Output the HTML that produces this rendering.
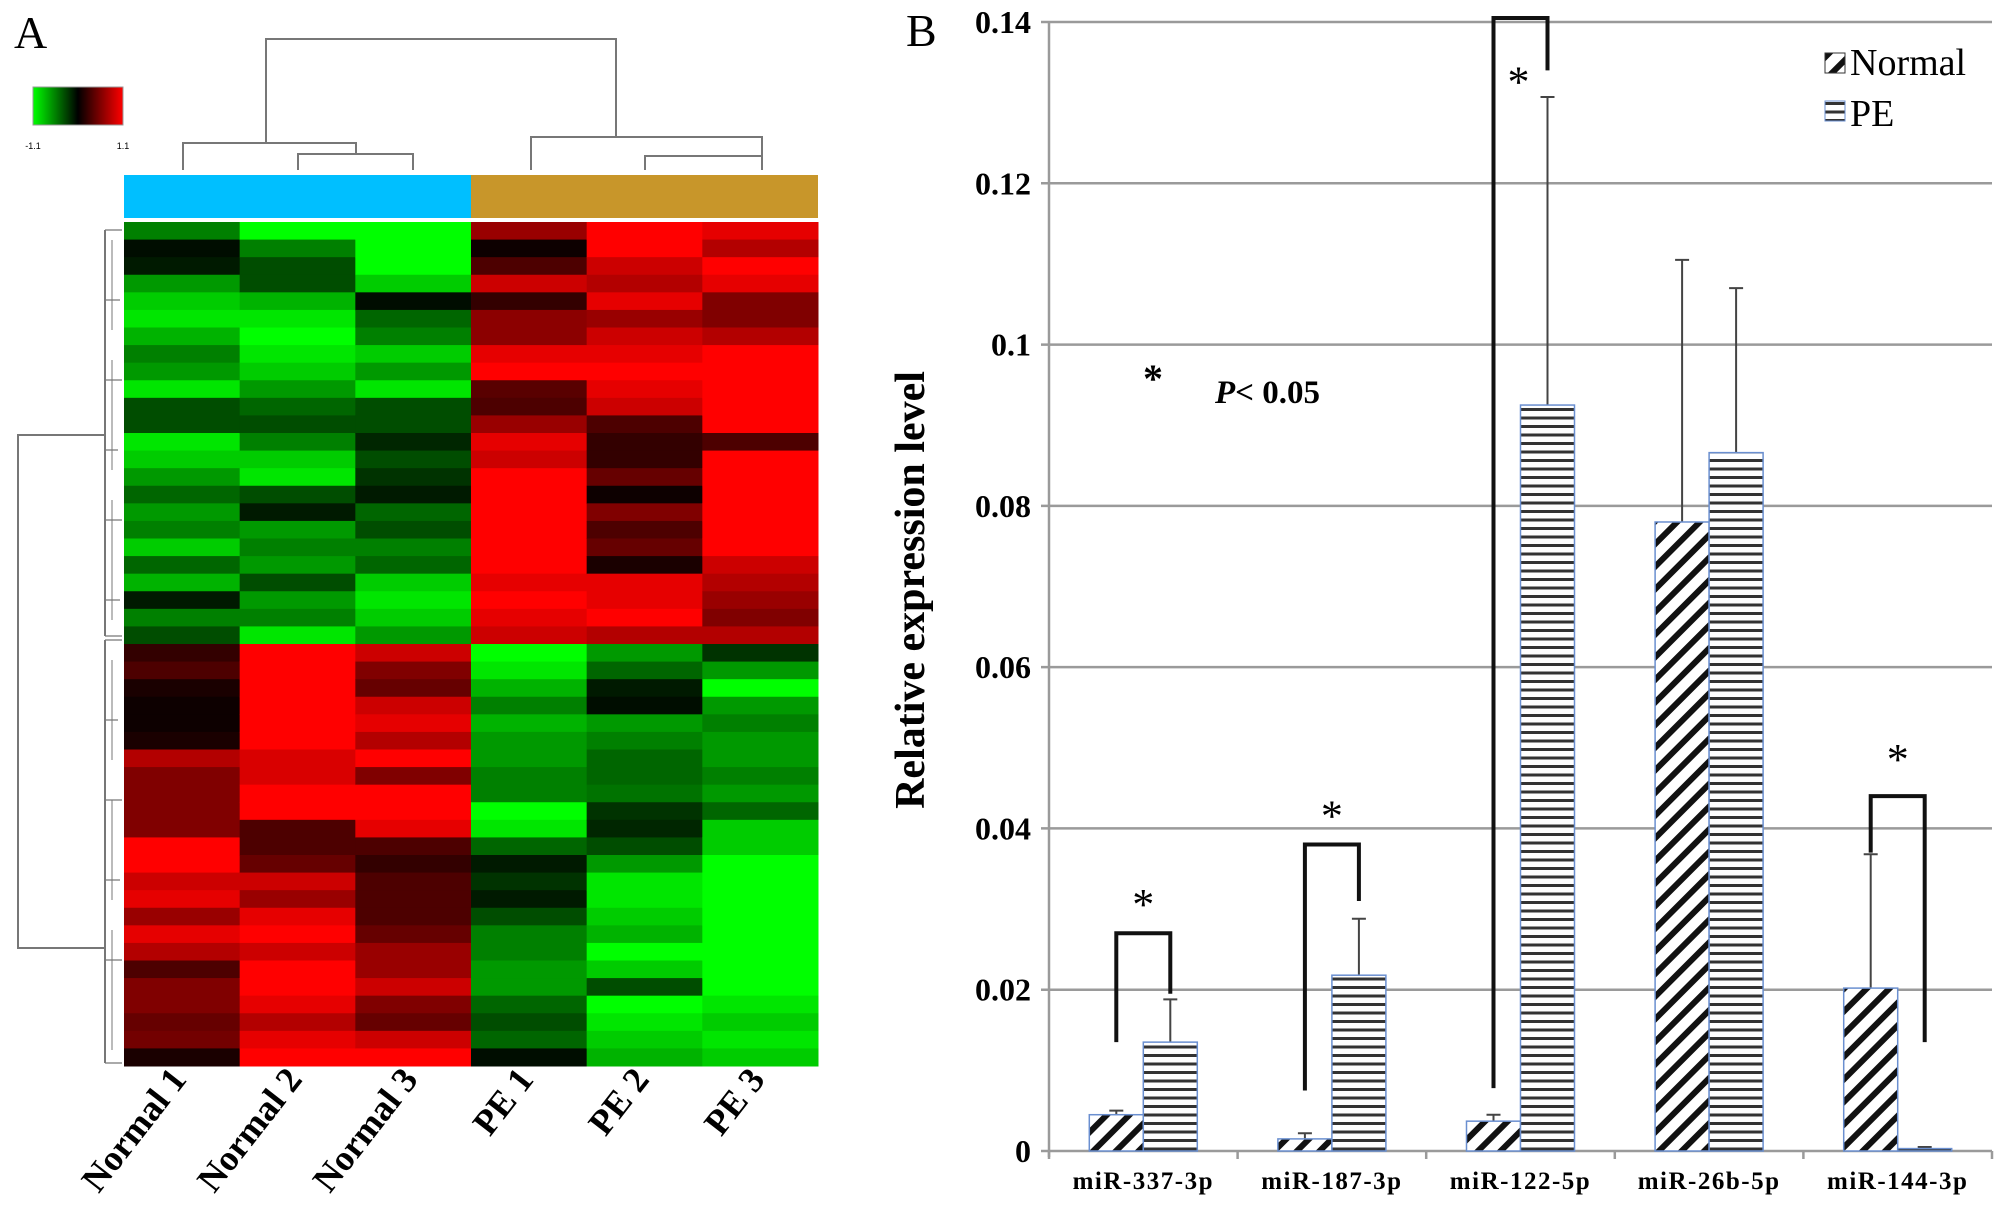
<!DOCTYPE html>
<html><head><meta charset="utf-8"><style>
html,body{margin:0;padding:0;background:#fff;}
svg{display:block;font-family:"Liberation Serif",serif;}
</style></head><body>
<svg id="fig" width="2008" height="1232" viewBox="0 0 2008 1232">
<defs>
<pattern id="diag" patternUnits="userSpaceOnUse" width="16" height="16" patternTransform="rotate(45)">
<rect width="16" height="16" fill="#fff"/><rect x="0" y="0" width="6" height="16" fill="#111"/>
</pattern>
<pattern id="horiz" patternUnits="userSpaceOnUse" width="8" height="8.5">
<rect width="8" height="8.5" fill="#fff"/><rect x="0" y="0" width="8" height="3" fill="#333"/>
</pattern>
<linearGradient id="cbar" x1="0" x2="1" y1="0" y2="0">
<stop offset="0" stop-color="#00ff00"/><stop offset="0.5" stop-color="#000"/><stop offset="1" stop-color="#ff0000"/>
</linearGradient>
</defs>
<text x="14" y="48" font-size="46">A</text>
<text x="906" y="46" font-size="46">B</text>
<g>
<rect x="33" y="87" width="90" height="38" fill="url(#cbar)" stroke="#999"/>
<text x="33" y="149" font-size="9" text-anchor="middle" font-family="Liberation Sans, sans-serif">-1.1</text>
<text x="123" y="149" font-size="9" text-anchor="middle" font-family="Liberation Sans, sans-serif">1.1</text>
</g>
<g id="heat"></g>
<g id="dendro" fill="none" stroke="#777" stroke-width="2">
<path d="M266 143V39H616V137"/>
<path d="M183 170V143H356V154"/>
<path d="M298 170V154H413V170"/>
<path d="M531 170V137H762V156"/>
<path d="M645 170V156H762V170"/>
<path d="M105 435H18V948H105"/>
<path d="M105 230V636M105 640V1063"/>
<path d="M105 230H122M105 300H120M105 380H122M105 450H118M105 520H122M105 600H120M105 636H122M105 640H122M105 720H118M105 800H122M105 880H120M105 960H122M105 1063H122" stroke-width="1.2"/>
<path d="M112 240V330M112 360V470M112 500V620M112 660V760M112 800V900M112 930V1050" stroke-width="1"/>
</g>
<g id="cols">
<rect x="124" y="175" width="347" height="43" fill="#00bfff"/>
<rect x="471" y="175" width="347" height="43" fill="#c8962a"/>
</g>
<g id="collabels" font-weight="bold" font-size="36"></g>

<g id="chart"></g>
<text transform="translate(924,590) rotate(-90)" font-size="42" font-weight="bold" text-anchor="middle">Relative expression level</text>
<text x="1143" y="392" font-size="40" font-weight="bold">*</text>
<text x="1215" y="403" font-size="33" font-weight="bold"><tspan font-style="italic">P</tspan>&lt; 0.05</text>
<g>
<rect x="1825" y="53" width="20" height="20" fill="url(#diag)" stroke="#333"/>
<text x="1850" y="75" font-size="38">Normal</text>
<rect x="1825" y="101" width="20" height="20" fill="url(#horiz)" stroke="#6a8fd0"/>
<text x="1850" y="126" font-size="38">PE</text>
</g>
</svg>
<script>
const NS="http://www.w3.org/2000/svg";
// ---- heatmap data ----
const sampleNames=["Normal 1","Normal 2","Normal 3","PE 1","PE 2","PE 3"];
const n1=[-0.5,-0.05,-0.1,-0.6,-0.8,-0.9,-0.7,-0.5,-0.6,-0.9,-0.3,-0.3,-0.9,-0.8,-0.6,-0.4,-0.6,-0.5,-0.8,-0.4,-0.7,-0.1,-0.5,-0.3,0.2,0.3,0.1,0.05,0.05,0.1,0.7,0.5,0.5,0.5,0.5,1,1,0.8,0.9,0.6,0.9,0.7,0.3,0.5,0.5,0.4,0.45,0.1];
const n2=[-1,-0.5,-0.3,-0.3,-0.7,-0.9,-1,-0.9,-0.8,-0.6,-0.4,-0.3,-0.5,-0.8,-0.9,-0.3,-0.1,-0.6,-0.5,-0.6,-0.3,-0.6,-0.5,-0.9,1,1,1,1,1,1,0.85,0.85,1,1,0.3,0.3,0.4,0.8,0.6,0.9,1,0.8,1,1,0.9,0.7,0.9,1];
const n3=[-1,-1,-1,-0.8,-0.05,-0.4,-0.5,-0.8,-0.6,-0.9,-0.3,-0.3,-0.15,-0.3,-0.2,-0.1,-0.4,-0.3,-0.5,-0.4,-0.8,-0.9,-0.8,-0.6,0.8,0.5,0.4,0.8,0.9,0.7,1,0.5,1,1,0.9,0.3,0.2,0.3,0.3,0.3,0.4,0.6,0.6,0.8,0.5,0.4,0.8,1];
const p1=[0.6,0.05,0.3,0.8,0.2,0.55,0.55,0.9,1,0.35,0.3,0.6,0.9,0.8,1,1,1,1,1,1,0.9,1,0.9,0.8,-1,-0.9,-0.7,-0.5,-0.7,-0.6,-0.6,-0.5,-0.5,-1,-0.9,-0.4,-0.1,-0.2,-0.1,-0.3,-0.5,-0.5,-0.6,-0.6,-0.4,-0.3,-0.4,-0.05];
const p2=[1,1,0.8,0.7,0.9,0.6,0.8,0.9,1,0.9,0.8,0.3,0.2,0.2,0.4,0.05,0.5,0.3,0.4,0.1,0.9,0.9,1,0.7,-0.6,-0.4,-0.1,-0.05,-0.6,-0.5,-0.4,-0.4,-0.45,-0.2,-0.15,-0.3,-0.6,-0.9,-0.9,-0.8,-0.7,-1,-0.8,-0.3,-1,-0.9,-0.8,-0.7];
const p3=[0.9,0.7,1,0.9,0.5,0.5,0.7,1,1,1,1,1,0.3,1,1,1,1,1,1,0.8,0.7,0.6,0.5,0.7,-0.2,-0.6,-1,-0.6,-0.5,-0.6,-0.6,-0.5,-0.6,-0.4,-0.8,-0.8,-1,-1,-1,-1,-1,-1,-1,-1,-0.9,-0.8,-0.9,-0.8];
const heatCols=[n1,n2,n3,p1,p2,p3];
const hx0=124,hx1=818,hy0=222,hy1=1066;
const heat=document.getElementById('heat');
function col(v){const a=Math.round(Math.min(1,Math.abs(v))*255);return v<0?`rgb(0,${a},0)`:`rgb(${a},0,0)`;}
const cw=(hx1-hx0)/heatCols.length;
heatCols.forEach((arr,c)=>{
  const rh=(hy1-hy0)/arr.length;
  arr.forEach((v,r)=>{
    const re=document.createElementNS(NS,'rect');
    re.setAttribute('x',hx0+c*cw);re.setAttribute('y',hy0+r*rh);
    re.setAttribute('width',cw+0.5);re.setAttribute('height',rh+0.5);
    re.setAttribute('fill',col(v));
    
    
    heat.appendChild(re);
  });
});
const cl=document.getElementById('collabels');
sampleNames.forEach((s,i)=>{
  const t=document.createElementNS(NS,'text');
  const cx=hx0+(i+0.5)*cw+6, cy=1080;
  t.setAttribute('transform',`translate(${cx},${cy}) rotate(-52)`);
  t.setAttribute('text-anchor','end');
  t.textContent=s;
  
  
  cl.appendChild(t);
});
// ---- bar chart data ----
const categories=["miR-337-3p","miR-187-3p","miR-122-5p","miR-26b-5p","miR-144-3p"];
const normalVals=[0.0045,0.0015,0.0037,0.078,0.0202];
const peVals=[0.0135,0.0218,0.0925,0.0866,0.0003];
const normalErr=[0.0005,0.0007,0.0008,0.0325,0.0166];
const peErr=[0.0053,0.007,0.0382,0.0204,0.0002];
const yTicks=[0,0.02,0.04,0.06,0.08,0.1,0.12,0.14];
const yTickLabels=["0","0.02","0.04","0.06","0.08","0.1","0.12","0.14"];
// brackets: [top, leftEnd, rightEnd, starValue]
const brTop=[0.027,0.038,0.1405,0.044];
const brLeft=[0.0135,0.0075,0.0078,0.037];
const brRight=[0.0195,0.031,0.134,0.0135];
const brStar=[0.0315,0.0425,0.1335,0.0495];
const brCat=[0,1,2,4];
const px0=1049,px1=1992,py0=1151,py1=22,ymax=0.14;
const Y=v=>py0-(v/ymax)*(py0-py1);
const band=(px1-px0)/categories.length;
const Xc=i=>px0+band*(i+0.5);
const bw=54;
const g=document.getElementById('chart');
function el(tag,attrs){const e=document.createElementNS(NS,tag);for(const k in attrs)e.setAttribute(k,attrs[k]);g.appendChild(e);return e;}
yTicks.forEach((t,i)=>{
  const l=el('line',{x1:px0-8,x2:px1,y1:Y(t),y2:Y(t),stroke:'#9a9a9a','stroke-width':2.5});
  
  
  const tx=el('text',{x:1031,y:Y(t)+11,'text-anchor':'end','font-size':32,'font-weight':'bold'});
  tx.textContent=yTickLabels[i];
  
  
});
const ax=el('line',{x1:px0,x2:px0,y1:py1,y2:py0+6,stroke:'#9a9a9a','stroke-width':2.5});


for(let i=0;i<=categories.length;i++){
  const tk=el('line',{x1:px0+band*i,x2:px0+band*i,y1:py0,y2:py0+8,stroke:'#9a9a9a','stroke-width':2.5});
  
  
}
categories.forEach((c,i)=>{
  const cx=Xc(i);
  [[normalVals,normalErr,cx-bw/2],[peVals,peErr,cx+bw/2]].forEach(([vals,errs,ex])=>{
    const eb=el('path',{d:`M${ex} ${Y(vals[i])}V${Y(vals[i]+errs[i])}M${ex-7} ${Y(vals[i]+errs[i])}H${ex+7}`,stroke:'#444','stroke-width':2,fill:'none'});
    
    
  });
  const b1=el('rect',{x:cx-bw,y:Y(normalVals[i]),width:bw,height:py0-Y(normalVals[i]),fill:'url(#diag)',stroke:'#6a8fd0','stroke-width':1.5});
  
  
  const b2=el('rect',{x:cx,y:Y(peVals[i]),width:bw,height:py0-Y(peVals[i]),fill:'url(#horiz)',stroke:'#6a8fd0','stroke-width':1.5});
  
  
  const t=el('text',{x:cx,y:1189,'text-anchor':'middle','font-size':25,'font-weight':'bold','letter-spacing':1.5});
  t.textContent=c;
  
  
});
brCat.forEach((ci,k)=>{
  const cx=Xc(ci), xl=cx-bw/2, xr=cx+bw/2;
  const p=el('path',{d:`M${xl} ${Y(brLeft[k])}V${Y(brTop[k])}H${xr}V${Y(brRight[k])}`,stroke:'#111','stroke-width':4,fill:'none'});
  
  
  const sx= ci===2 ? xl+25 : cx;
  const s=el('text',{x:sx,y:Y(brStar[k])+22,'text-anchor':'middle','font-size':44});
  s.textContent='*';
  
  
});
</script>
</body></html>
